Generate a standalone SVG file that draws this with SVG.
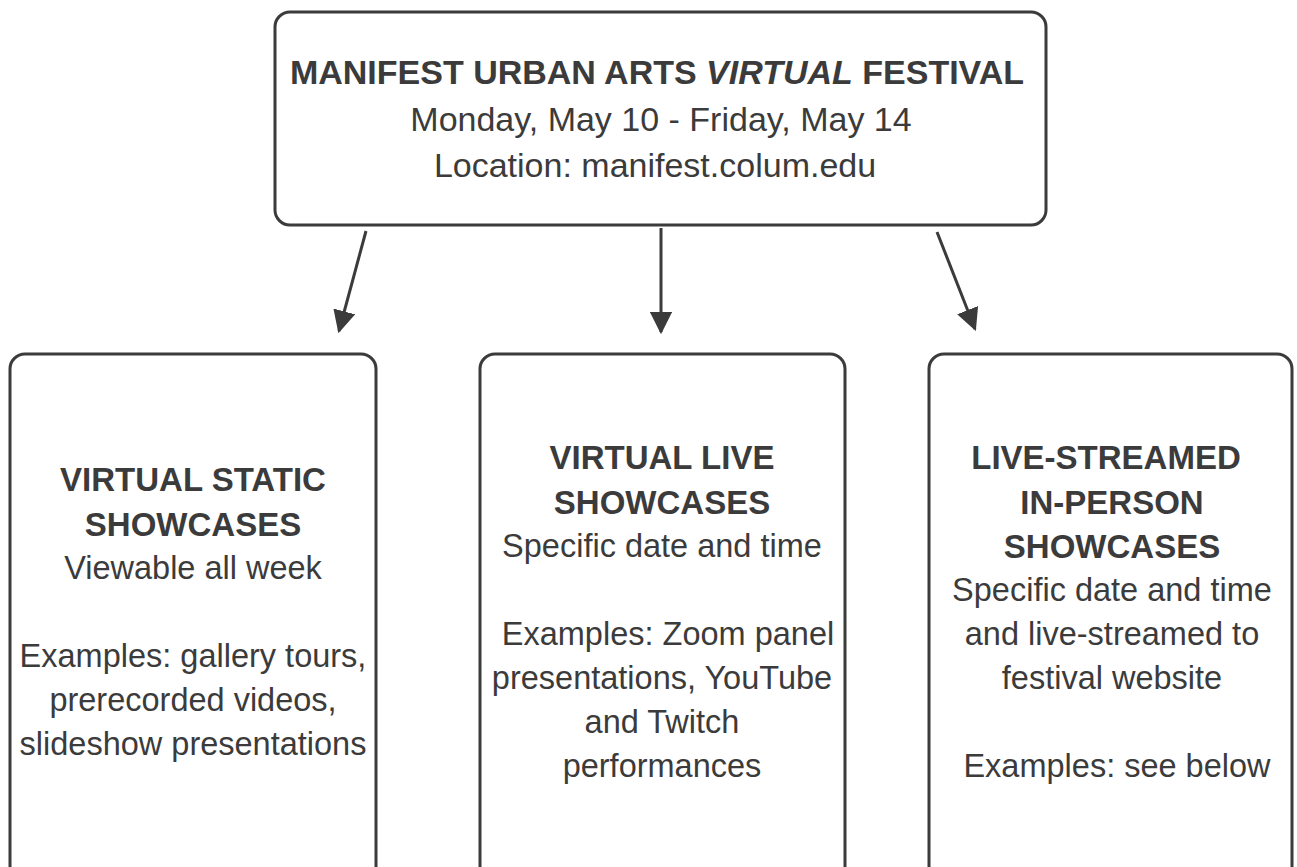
<svg xmlns="http://www.w3.org/2000/svg" width="1297" height="867" viewBox="0 0 1297 867">
<style>
.box{fill:#fff;stroke:#3b3b3b;stroke-width:3}
.t{font-family:"Liberation Sans",Arial,sans-serif;fill:#3b3b3b;text-anchor:middle}
.h{font-size:34px;font-weight:bold}
.s{font-size:34px}
.b{font-size:33px;font-weight:bold}
.r{font-size:32.5px}
.conn{stroke:#3b3b3b;stroke-width:3;fill:none}
</style>
<defs>
<marker id="ah" viewBox="0 0 10 10" refX="9" refY="5" markerWidth="7.5" markerHeight="7.5" orient="auto" markerUnits="strokeWidth">
<path d="M0,0 L10,5 L0,10 z" fill="#3b3b3b"/>
</marker>
</defs>
<rect width="1297" height="867" fill="#fff"/>
<g id="top">
<rect class="box" x="275" y="12" width="771" height="213" rx="15"/>
<text class="t h" x="657" y="84">MANIFEST URBAN ARTS <tspan font-style="italic">VIRTUAL</tspan> FESTIVAL</text>
<text class="t s" x="661" y="131">Monday, May 10 - Friday, May 14</text>
<text class="t s" x="655" y="177">Location: manifest.colum.edu</text>
</g>
<g id="connectors">
<line class="conn" x1="366" y1="231" x2="339" y2="331" marker-end="url(#ah)"/>
<line class="conn" x1="661" y1="228" x2="661" y2="332" marker-end="url(#ah)"/>
<line class="conn" x1="937" y1="232" x2="975" y2="329" marker-end="url(#ah)"/>
</g>
<g id="static">
<rect class="box" x="10" y="354" width="366" height="530" rx="15"/>
<text class="t b" x="193" y="491">VIRTUAL STATIC</text>
<text class="t b" x="193" y="536">SHOWCASES</text>
<text class="t r" x="193" y="579">Viewable all week</text>
<text class="t r" x="193" y="667">Examples: gallery tours,</text>
<text class="t r" x="193" y="711">prerecorded videos,</text>
<text class="t r" x="193" y="755">slideshow presentations</text>
</g>
<g id="live">
<rect class="box" x="480" y="354" width="365" height="530" rx="15"/>
<text class="t b" x="662" y="469">VIRTUAL LIVE</text>
<text class="t b" x="662" y="514">SHOWCASES</text>
<text class="t r" x="662" y="557">Specific date and time</text>
<text class="t r" x="668" y="645">Examples: Zoom panel</text>
<text class="t r" x="662" y="689">presentations, YouTube</text>
<text class="t r" x="662" y="733">and Twitch</text>
<text class="t r" x="662" y="777">performances</text>
</g>
<g id="instream">
<rect class="box" x="929" y="354" width="363" height="530" rx="15"/>
<text class="t b" x="1106" y="469">LIVE-STREAMED</text>
<text class="t b" x="1112" y="514">IN-PERSON</text>
<text class="t b" x="1112" y="558">SHOWCASES</text>
<text class="t r" x="1112" y="601">Specific date and time</text>
<text class="t r" x="1112" y="645">and live-streamed to</text>
<text class="t r" x="1112" y="689">festival website</text>
<text class="t r" x="1117" y="777">Examples: see below</text>
</g>
</svg>
